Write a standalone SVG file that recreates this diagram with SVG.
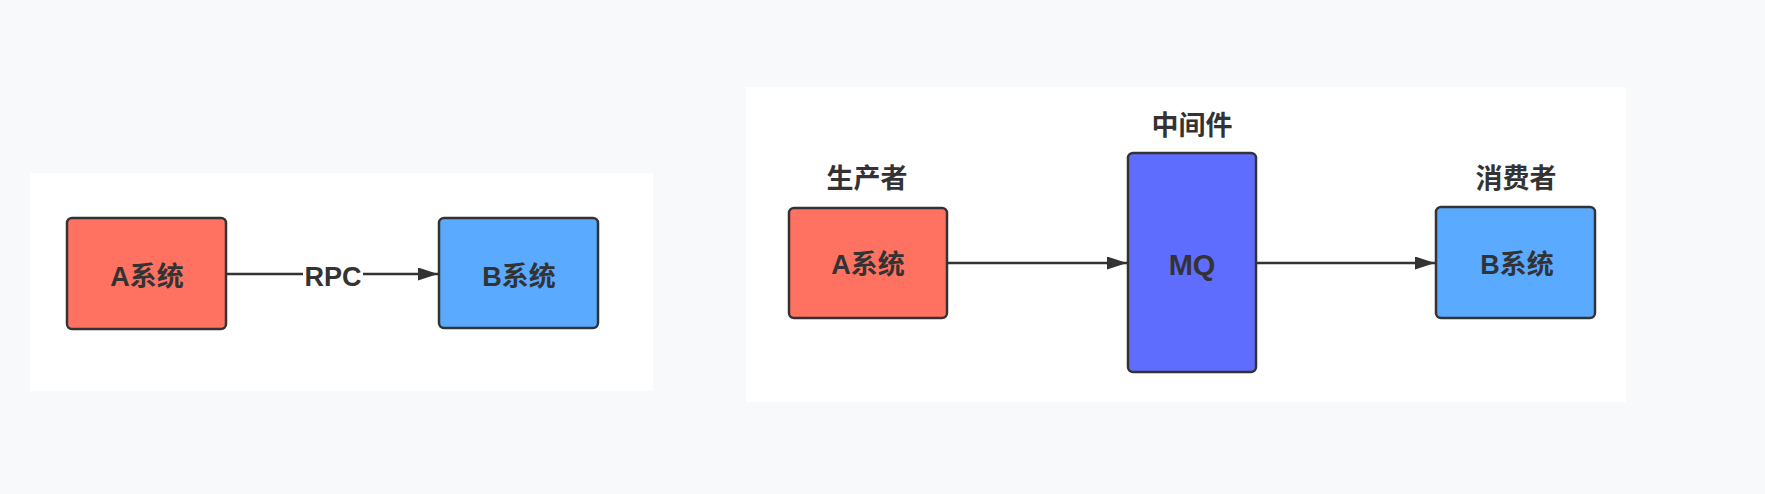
<svg xmlns="http://www.w3.org/2000/svg" width="1765" height="494" viewBox="0 0 1765 494">
  <style>
    .bg { fill: #f8f9fb; }
    .panel { fill: #ffffff; }
    .box { stroke: #333333; stroke-width: 2.5; }
    .red { fill: #ff7262; }
    .blue { fill: #5aabff; }
    .mq { fill: #5f6dff; }
    .t { font-family: "Liberation Sans", "Noto Sans CJK SC", sans-serif; font-weight: bold; font-size: 27px; fill: #333333; text-anchor: middle; }
    .edge { stroke: #333333; stroke-width: 2.5; fill: none; }
  </style>
  <defs>
    <marker id="arrow" viewBox="0 0 20 13" refX="20" refY="6.5" markerWidth="20" markerHeight="13" markerUnits="userSpaceOnUse" orient="auto">
      <path d="M0,0 L20,6.5 L0,13 Z" fill="#333333"/>
    </marker>
  </defs>
  <rect class="bg" x="0" y="0" width="1765" height="494"/>
  <rect class="panel" x="30" y="173" width="623" height="218"/>
  <rect class="panel" x="746" y="87" width="880" height="315"/>

  <g id="connectors">
    <line class="edge" x1="226" y1="274" x2="303" y2="274"/>
    <line class="edge" x1="363" y1="274" x2="438" y2="274" marker-end="url(#arrow)"/>
    <text class="t" x="333" y="286">RPC</text>
    <line class="edge" x1="947" y1="263" x2="1127" y2="263" marker-end="url(#arrow)"/>
    <line class="edge" x1="1256" y1="263" x2="1435" y2="263" marker-end="url(#arrow)"/>
  </g>

  <g id="left-a">
    <rect class="box red" x="67" y="218" width="159" height="111" rx="5"/>
    <text class="t" x="147" y="286">A系统</text>
  </g>
  <g id="left-b">
    <rect class="box blue" x="439" y="218" width="159" height="110" rx="5"/>
    <text class="t" x="519" y="286">B系统</text>
  </g>

  <g id="producer">
    <text class="t" x="867" y="188">生产者</text>
    <rect class="box red" x="789" y="208" width="158" height="110" rx="5"/>
    <text class="t" x="868" y="274">A系统</text>
  </g>
  <g id="mq">
    <text class="t" x="1192" y="135">中间件</text>
    <rect class="box mq" x="1128" y="153" width="128" height="219" rx="5"/>
    <text class="t" x="1192" y="275" style="font-size:29px">MQ</text>
  </g>
  <g id="consumer">
    <text class="t" x="1516" y="188">消费者</text>
    <rect class="box blue" x="1436" y="207" width="159" height="111" rx="5"/>
    <text class="t" x="1517" y="274">B系统</text>
  </g>
</svg>
